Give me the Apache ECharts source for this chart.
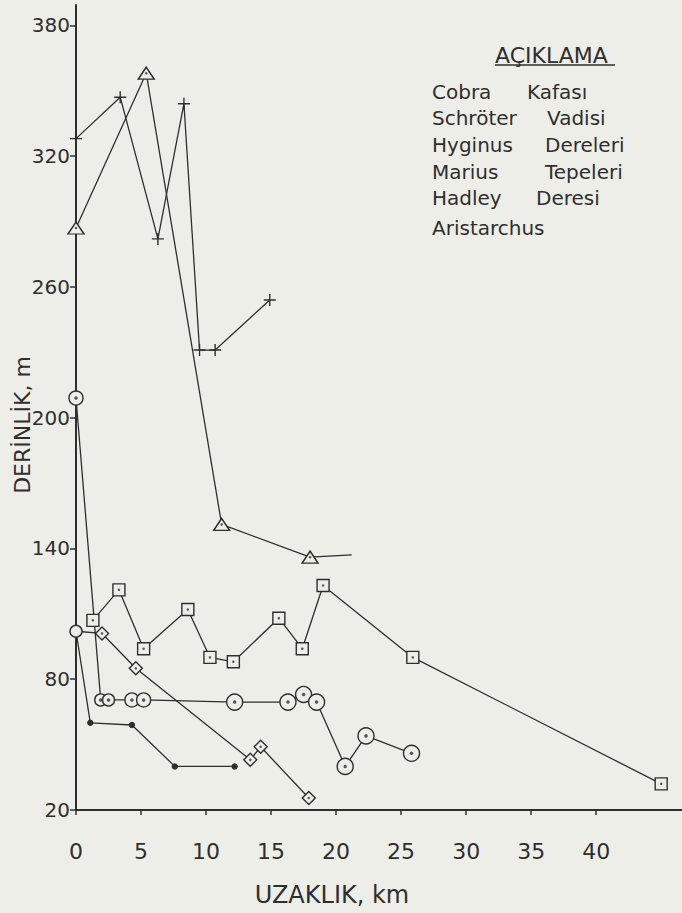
<!DOCTYPE html>
<html><head><meta charset="utf-8">
<script src="https://cdn.jsdelivr.net/npm/echarts@6/dist/echarts.min.js"></script>
<style>html,body{margin:0;padding:0;background:#eeeee9}#c{width:682px;height:913px}</style>
</head><body><div id="c"></div>
<script>
// ---- data ----
const xTicks = [0, 5, 10, 15, 20, 25, 30, 35, 40];
const yTicks = [20, 80, 140, 200, 260, 320, 380];
const legendTitle = 'AÇIKLAMA';
const legendLeft = ['Cobra', 'Schröter', 'Hyginus', 'Marius', 'Hadley', 'Aristarchus'];
const legendRight = ['Kafası', 'Vadisi', 'Dereleri', 'Tepeleri', 'Deresi', ''];
const yAxisName = 'DERİNLİK, m';
const xAxisName = 'UZAKLIK, km';

const plusKm = [0, 3.4, 6.3, 8.3, 9.5, 10.7, 14.9];
const plusDepth = [328, 347, 282, 344, 231, 231, 254];

const triKm = [0, 5.4, 11.2, 18.0, 21.2];
const triDepth = [287, 358, 151, 136, 137];

const sqKm = [1.3, 3.3, 5.2, 8.6, 10.3, 12.1, 15.6, 17.4, 19.0, 25.9, 45.0];
const sqDepth = [107, 121, 94, 112, 90, 88, 108, 94, 123, 90, 32];

const cirKm = [0, 1.9, 2.5, 4.3, 5.2, 12.2, 16.3, 17.5, 18.5, 20.7, 22.3, 25.8];
const cirDepth = [209, 70.5, 70.5, 70.5, 70.5, 69.5, 69.5, 73, 69.5, 40, 54, 46];

const diaKm = [0, 2.0, 4.6, 13.4, 14.2, 17.9];
const diaDepth = [102, 101, 85, 43, 49, 25.5];

const dotKm = [0, 1.1, 4.3, 7.6, 12.2];
const dotDepth = [102, 60, 59, 40, 40];

// ---- build ----
const INK = '#2e2e2e';
const BG = '#eeeee9';
const FONT = '"DejaVu Sans", sans-serif';
const pairs = (a, b) => a.map((v, i) => [v, b[i]]);

function lineSeries(name, km, depth, symbol, size, opts) {
  opts = opts || {};
  const data = pairs(km, depth).map((p, i) => {
    const o = { value: p };
    if (opts.noSymbol && opts.noSymbol.includes(i)) o.symbol = 'none';
    if (opts.special && opts.special[i]) Object.assign(o, opts.special[i]);
    return o;
  });
  return {
    name, type: 'line', data, symbol, symbolSize: size, showAllSymbol: true,
    lineStyle: { color: INK, width: 1.3 },
    itemStyle: { color: opts.fill || BG, borderColor: INK, borderWidth: 1.4 },
    z: 3
  };
}
function dotSeries(km, depth, size, skip) {
  return {
    type: 'scatter', data: pairs(km, depth).filter((_, i) => !(skip || []).includes(i)),
    symbol: 'circle', symbolSize: size, itemStyle: { color: INK }, z: 5
  };
}

const plusPath = 'path://M0,6 L12,6 M6,0 L6,12';

const series = [
  lineSeries(legendLeft[0] + ' ' + legendRight[0], plusKm, plusDepth, plusPath, 12, { fill: 'none' }),
  lineSeries(legendLeft[1] + ' ' + legendRight[1], triKm, triDepth, 'triangle', [16, 12], { noSymbol: [4] }),
  lineSeries(legendLeft[2] + ' ' + legendRight[2], sqKm, sqDepth, 'rect', 12),
  lineSeries(legendLeft[3] + ' ' + legendRight[3], cirKm, cirDepth, 'circle', 16,
    { special: { 0: { symbolSize: 14 }, 1: { symbolSize: 12 }, 2: { symbolSize: 12 }, 3: { symbolSize: 14 }, 4: { symbolSize: 14 } } }),
  lineSeries(legendLeft[4] + ' ' + legendRight[4], diaKm, diaDepth, 'diamond', 13,
    { special: { 0: { symbol: 'circle', symbolSize: 12 } } }),
  lineSeries(legendLeft[5], dotKm, dotDepth, 'circle', 5, { fill: INK, noSymbol: [0] }),
  dotSeries(triKm, triDepth, 2.5, [4]),
  dotSeries(sqKm, sqDepth, 2.5),
  dotSeries(cirKm, cirDepth, 3.5),
  dotSeries(diaKm, diaDepth, 2.5, [0])
];

const graphic = [
  { type: 'text', x: 495, y: 55, style: { text: legendTitle, font: '22px ' + FONT, fill: INK, verticalAlign: 'middle' } },
  { type: 'line', shape: { x1: 495, y1: 65, x2: 615, y2: 65 }, style: { stroke: INK, lineWidth: 1.5 } }
];
const rowY = [92, 118, 145, 172, 198, 228];
const rightX = [527, 547, 545, 545, 536, 0];
legendLeft.forEach((t, i) => {
  graphic.push({ type: 'text', x: 432, y: rowY[i], style: { text: t, font: '20px ' + FONT, fill: INK, verticalAlign: 'middle' } });
  if (legendRight[i]) graphic.push({ type: 'text', x: rightX[i], y: rowY[i], style: { text: legendRight[i], font: '20px ' + FONT, fill: INK, verticalAlign: 'middle' } });
});
graphic.push({ type: 'text', x: 22, y: 425, rotation: Math.PI / 2,
  style: { text: yAxisName, font: '22px ' + FONT, fill: INK, align: 'center', verticalAlign: 'middle' } });
graphic.push({ type: 'text', x: 332, y: 895,
  style: { text: xAxisName, font: '24px ' + FONT, fill: INK, align: 'center', verticalAlign: 'middle' } });

const chart = echarts.init(document.getElementById('c'), null, { renderer: 'svg' });
chart.setOption({
  backgroundColor: BG,
  animation: false,
  grid: { left: 76, right: 0, top: 5, bottom: 103, containLabel: false },
  xAxis: {
    type: 'value', min: 0, max: 46.6,
    axisLine: { show: true, lineStyle: { color: INK, width: 2 } },
    axisTick: { show: true, customValues: xTicks, length: 5, lineStyle: { color: INK, width: 1.5 } },
    axisLabel: { customValues: xTicks, fontSize: 22, fontFamily: FONT, color: INK, margin: 30 },
    splitLine: { show: false }
  },
  yAxis: {
    type: 'value', min: 20, max: 389.3,
    axisLine: { show: true, lineStyle: { color: INK, width: 2 } },
    axisTick: { show: true, customValues: yTicks, length: 6, lineStyle: { color: INK, width: 1.5 } },
    axisLabel: { customValues: yTicks, fontSize: 20, fontFamily: FONT, color: INK, margin: 6 },
    splitLine: { show: false }
  },
  graphic,
  series
});
</script></body></html>
